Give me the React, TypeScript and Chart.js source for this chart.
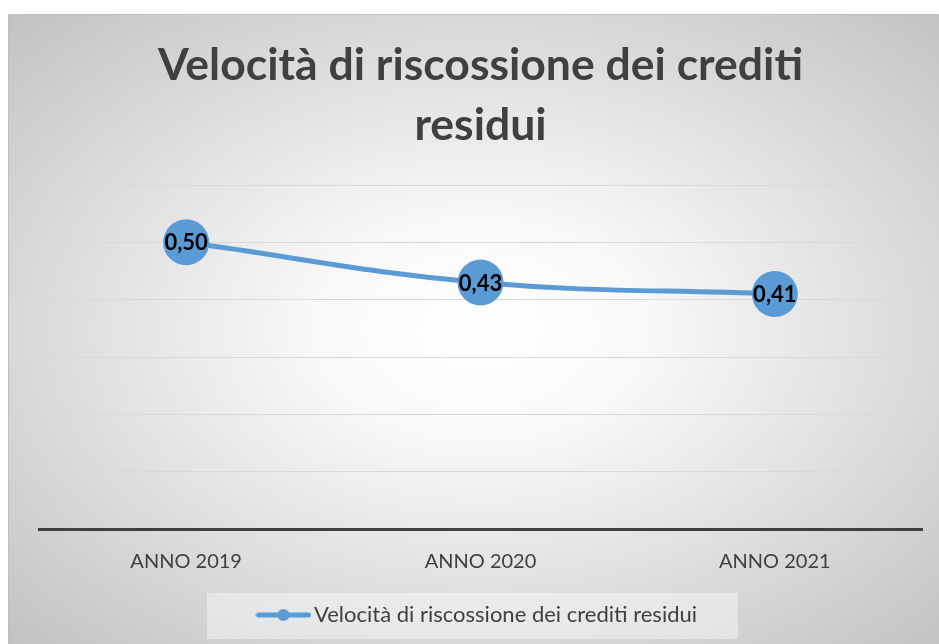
import React, { useEffect, useRef } from "react";
import { Chart, registerables } from "chart.js";

Chart.register(...registerables);

const categories = ["ANNO 2019", "ANNO 2020", "ANNO 2021"];
const seriesName = "Velocità di riscossione dei crediti residui";
const values = [0.5, 0.43, 0.41];
const titleLines = ["Velocità di riscossione dei crediti", "residui"];
const yMin = 0;
const yMax = 0.6;
const yStep = 0.1;

const BLUE = "#5b9bd5";
const TEXT = "#404040";
const FONT = "Lato, 'Open Sans', sans-serif";

function makeLegendIcon(): HTMLCanvasElement {
  const c = document.createElement("canvas");
  c.width = 56;
  c.height = 14;
  const ctx = c.getContext("2d")!;
  ctx.strokeStyle = BLUE;
  ctx.lineWidth = 5;
  ctx.lineCap = "round";
  ctx.beginPath();
  ctx.moveTo(3, 7);
  ctx.lineTo(53, 7);
  ctx.stroke();
  ctx.fillStyle = BLUE;
  ctx.beginPath();
  ctx.arc(28, 7, 6, 0, Math.PI * 2);
  ctx.fill();
  return c;
}

const legendBoxPlugin = {
  id: "legendBox",
  beforeDraw(chart: any) {
    const lg = chart.legend;
    if (!lg || !lg.legendHitBoxes || !lg.legendHitBoxes.length) return;
    const hb = lg.legendHitBoxes[0];
    const ctx = chart.ctx;
    ctx.save();
    ctx.fillStyle = "rgba(255,255,255,0.4)";
    const cy = hb.top + hb.height / 2;
    ctx.fillRect(hb.left - 57, cy - 22, hb.width + 98, 46);
    ctx.restore();
  },
};

const dataLabelPlugin = {
  id: "dataLabels",
  afterDatasetsDraw(chart: any) {
    const ctx = chart.ctx;
    const meta = chart.getDatasetMeta(0);
    ctx.save();
    ctx.font = `bold 22px ${FONT}`;
    ctx.fillStyle = "#000000";
    ctx.textAlign = "center";
    ctx.textBaseline = "middle";
    meta.data.forEach((pt: any, i: number) => {
      const v = chart.data.datasets[0].data[i] as number;
      ctx.fillText(v.toFixed(2).replace(".", ","), pt.x, pt.y + 1);
    });
    ctx.restore();
  },
};

export default function App() {
  const ref = useRef<HTMLCanvasElement | null>(null);
  useEffect(() => {
    if (!ref.current) return;
    const icon = makeLegendIcon();
    const chart = new Chart(ref.current, {
      type: "line",
      data: {
        labels: categories,
        datasets: [
          {
            label: seriesName,
            data: values,
            borderColor: BLUE,
            backgroundColor: BLUE,
            borderWidth: 5,
            tension: 0.4,
            pointRadius: 23,
            pointHoverRadius: 23,
            pointBackgroundColor: BLUE,
            pointBorderWidth: 0,
            clip: false as any,
          },
        ],
      },
      options: {
        animation: false,
        responsive: true,
        maintainAspectRatio: false,
        layout: { padding: { left: 30, right: 30, top: 0, bottom: 8 }, autoPadding: false },
        plugins: {
          title: {
            display: true,
            text: titleLines,
            color: TEXT,
            font: { family: FONT, size: 44.5, weight: "bold", lineHeight: 60 / 44.5 },
            padding: { top: 21, bottom: 29 },
          },
          legend: {
            display: true,
            position: "bottom",
            labels: {
              color: TEXT,
              font: { family: FONT, size: 22 },
              usePointStyle: true,
              pointStyleWidth: 39,
              padding: 19,
              generateLabels: () => [
                {
                  text: seriesName,
                  pointStyle: icon as any,
                  fillStyle: BLUE,
                  strokeStyle: BLUE,
                  lineWidth: 0,
                  hidden: false,
                  datasetIndex: 0,
                  fontColor: TEXT,
                } as any,
              ],
            },
          },
          tooltip: { enabled: false },
        },
        scales: {
          x: {
            offset: true,
            grid: { display: false, drawTicks: false },
            border: { display: true, color: "#404040", width: 3 },
            ticks: { color: TEXT, font: { family: FONT, size: 20 }, padding: 21 },
            afterFit: (s: any) => {
              s.height = 56;
            },
          },
          y: {
            min: yMin,
            max: yMax,
            ticks: { display: false, stepSize: yStep },
            grid: {
              drawTicks: false,
              color: (c: any) => (c.tick && c.tick.value === 0 ? "rgba(0,0,0,0)" : "#d9d9d9"),
              lineWidth: 1,
            },
            border: { display: false },
            afterFit: (s: any) => {
              s.width = 0;
            },
          },
        },
      },
      plugins: [legendBoxPlugin, dataLabelPlugin],
    });
    return () => chart.destroy();
  }, []);

  return (
    <div
      style={{
        position: "fixed",
        left: 8,
        top: 14,
        width: 944,
        height: 630,
        boxSizing: "border-box",
        borderTop: "1px solid #bfbfbf",
        borderLeft: "1px solid #bfbfbf",
        background:
          "radial-gradient(ellipse at 50% 50%, #ffffff 0%, #f8f8f8 25%, #c2c2c2 100%)",
      }}
    >
      <div style={{ position: "relative", width: "100%", height: "100%" }}>
        <canvas ref={ref} />
      </div>
    </div>
  );
}
